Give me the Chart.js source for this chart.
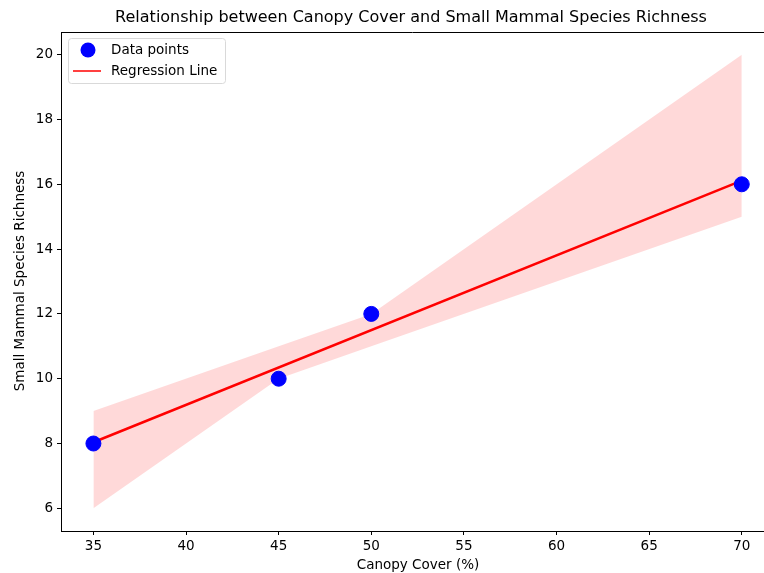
<!DOCTYPE html>
<html>
<head>
<meta charset="utf-8">
<script src="https://cdn.jsdelivr.net/npm/chart.js@4/dist/chart.umd.min.js"></script>
<style>
  html, body { margin: 0; padding: 0; background: #fff; }
  #chart { display: block; }
</style>
</head>
<body>
<canvas id="chart" width="764" height="573"></canvas>
<script>
// data
const canopyCover = [35, 45, 50, 70];
const speciesRichness = [8, 10, 12, 16];

// confidence band edges
const bandX = [35, 45, 50, 70];
const bandUpper = [9, 11, 12, 20];
const bandLower = [6, 10, 11, 15];

const xTicks = [35, 40, 45, 50, 55, 60, 65, 70];
const yTicks = [6, 8, 10, 12, 14, 16, 18, 20];

const FONT = "'DejaVu Sans', sans-serif";

// least squares fit for the regression line
function fitLine(xs, ys) {
  const n = xs.length;
  const mx = xs.reduce((a, b) => a + b, 0) / n;
  const my = ys.reduce((a, b) => a + b, 0) / n;
  let sxy = 0, sxx = 0;
  for (let i = 0; i < n; i++) {
    sxy += (xs[i] - mx) * (ys[i] - my);
    sxx += (xs[i] - mx) * (xs[i] - mx);
  }
  const slope = sxy / sxx;
  return { slope: slope, intercept: my - slope * mx };
}

const fit = fitLine(canopyCover, speciesRichness);
const xMinData = Math.min(...canopyCover);
const xMaxData = Math.max(...canopyCover);
const regression = [
  { x: xMinData, y: fit.intercept + fit.slope * xMinData },
  { x: xMaxData, y: fit.intercept + fit.slope * xMaxData },
];

const toPoints = (xs, ys) => xs.map((x, i) => ({ x: x, y: ys[i] }));

// texts, frame and legend drawn on the canvas
const decorations = {
  id: "decorations",
  afterDraw(chart) {
    const ctx = chart.ctx;
    const area = chart.chartArea;
    ctx.save();

    // top spine
    ctx.strokeStyle = "#000";
    ctx.lineWidth = 1;
    ctx.beginPath();
    ctx.moveTo(area.left, area.top + 0.5);
    ctx.lineTo(area.right, area.top + 0.5);
    ctx.stroke();

    ctx.fillStyle = "#000";
    ctx.textAlign = "center";
    ctx.textBaseline = "middle";

    ctx.font = "16px " + FONT;
    ctx.fillText("Relationship between Canopy Cover and Small Mammal Species Richness", 411, 18);

    ctx.font = "13.5px " + FONT;
    ctx.fillText("Canopy Cover (%)", 418, 565);

    ctx.save();
    ctx.translate(20, 281);
    ctx.rotate(-Math.PI / 2);
    ctx.fillText("Small Mammal Species Richness", 0, 0);
    ctx.restore();

    // legend box
    const lx = 68.5, ly = 38.5, lw = 157, lh = 45;
    ctx.fillStyle = "rgba(255,255,255,0.8)";
    ctx.strokeStyle = "#d9d9d9";
    ctx.lineWidth = 1;
    ctx.beginPath();
    ctx.roundRect(lx, ly, lw, lh, 3);
    ctx.fill();
    ctx.stroke();

    ctx.fillStyle = "blue";
    ctx.beginPath();
    ctx.arc(88, 50, 7.5, 0, Math.PI * 2);
    ctx.fill();

    ctx.strokeStyle = "red";
    ctx.lineWidth = 1.5;
    ctx.beginPath();
    ctx.moveTo(73, 71);
    ctx.lineTo(101, 71);
    ctx.stroke();

    ctx.fillStyle = "#000";
    ctx.textAlign = "left";
    ctx.font = "13.5px " + FONT;
    ctx.fillText("Data points", 111, 50);
    ctx.fillText("Regression Line", 111, 71);

    ctx.restore();
  },
};

new Chart(document.getElementById("chart"), {
  type: "scatter",
  data: {
    datasets: [
      {
        label: "Data points",
        data: toPoints(canopyCover, speciesRichness),
        backgroundColor: "blue",
        borderColor: "blue",
        pointRadius: 7.5,
        order: 0,
      },
      {
        label: "Regression Line",
        type: "line",
        data: regression,
        borderColor: "red",
        borderWidth: 2.5,
        pointRadius: 0,
        fill: false,
        order: 1,
      },
      {
        label: "band upper",
        type: "line",
        data: toPoints(bandX, bandUpper),
        borderWidth: 0,
        borderColor: "rgba(0,0,0,0)",
        backgroundColor: "rgba(255,0,0,0.15)",
        pointRadius: 0,
        fill: "+1",
        order: 2,
      },
      {
        label: "band lower",
        type: "line",
        data: toPoints(bandX, bandLower),
        borderWidth: 0,
        borderColor: "rgba(0,0,0,0)",
        pointRadius: 0,
        fill: false,
        order: 3,
      },
    ],
  },
  options: {
    responsive: false,
    animation: false,
    devicePixelRatio: 1,
    layout: { autoPadding: false, padding: { top: 32, right: 0, left: 0, bottom: 0 } },
    plugins: {
      legend: { display: false },
      tooltip: { enabled: false },
    },
    scales: {
      x: {
        type: "linear",
        min: 33.25,
        max: 71.2,
        afterBuildTicks: (scale) => {
          scale.ticks = xTicks.map((v) => ({ value: v }));
        },
        afterFit: (scale) => {
          scale.height = 42;
        },
        grid: { drawOnChartArea: false, drawTicks: true, tickLength: 4, color: "#000" },
        border: { display: true, color: "#000", width: 1 },
        ticks: { color: "#000", font: { family: FONT, size: 13.5 }, padding: 3, maxRotation: 0 },
      },
      y: {
        type: "linear",
        min: 5.3,
        max: 20.7,
        afterBuildTicks: (scale) => {
          scale.ticks = yTicks.map((v) => ({ value: v }));
        },
        afterFit: (scale) => {
          scale.width = 61;
        },
        grid: { drawOnChartArea: false, drawTicks: true, tickLength: 4, color: "#000" },
        border: { display: true, color: "#000", width: 1 },
        ticks: { color: "#000", font: { family: FONT, size: 13.5 }, padding: 4 },
      },
    },
  },
  plugins: [decorations],
});
</script>
</body>
</html>
